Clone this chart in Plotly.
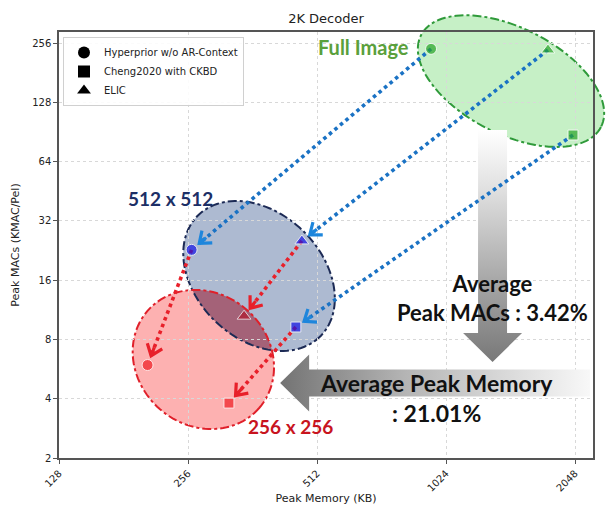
import math
import plotly.graph_objects as go

# ---------------- data ----------------
models = ["Hyperprior w/o AR-Context", "Cheng2020 with CKBD", "ELIC"]
symbols = ["circle", "square", "triangle-up"]
mem_full = [945, 2026, 1771]
macs_full = [239, 87.3, 236]
mem_512 = [261, 457, 472]
macs_512 = [22.8, 9.25, 25.3]
mem_256 = [206, 319, 346]
macs_256 = [5.93, 3.80, 10.5]

x_ticks = [128, 256, 512, 1024, 2048]
y_ticks = [2, 4, 8, 16, 32, 64, 128, 256]

group_labels = ["Full Image", "512 x 512", "256 x 256"]
avg_macs_text = "Average<br>Peak MACs : 3.42%"
avg_mem_text = "Average Peak Memory<br>: 21.01%"

# ---------------- layout geometry ----------------
W, H = 606, 508
ML, MR, MT, MB = 59, 13, 32, 50
PW, PH = W - ML - MR, H - MT - MB
XL = (7.0, 11.1395)      # log2 range of x axis
YL = (1.0, 8.1855)       # log2 range of y axis


def to_px(x, y):
    px = (math.log2(x) - XL[0]) / (XL[1] - XL[0]) * PW
    py = (YL[1] - math.log2(y)) / (YL[1] - YL[0]) * PH
    return px, py


def from_px(px, py):
    x = 2 ** (XL[0] + px / PW * (XL[1] - XL[0]))
    y = 2 ** (YL[1] - py / PH * (YL[1] - YL[0]))
    return x, y


def paper(px, py):
    return px / PW, 1 - py / PH


def ellipse_pts(c, a, b, deg, n=120):
    cx, cy = to_px(*c)
    th = math.radians(deg)
    pts = []
    for k in range(n):
        t = 2 * math.pi * k / n
        pts.append((cx + a * math.cos(t) * math.cos(th) - b * math.sin(t) * math.sin(th),
                    cy + a * math.cos(t) * math.sin(th) + b * math.sin(t) * math.cos(th)))
    return pts


def inside(p, c, a, b, deg):
    cx, cy = to_px(*c)
    th = math.radians(deg)
    dx, dy = p[0] - cx, p[1] - cy
    u = dx * math.cos(th) + dy * math.sin(th)
    v = -dx * math.sin(th) + dy * math.cos(th)
    return (u / a) ** 2 + (v / b) ** 2 <= 1.0


def path_of(pts):
    s = ""
    for i, (px, py) in enumerate(pts):
        X, Y = paper(px, py)
        s += ("M" if i == 0 else "L") + f"{X:.5f},{Y:.5f} "
    return s + "Z"


# ellipse regions: centre in data units, semi axes (px), angle (deg)
ell_full = dict(c=(1452, 164), a=101, b=53, deg=27)
ell_512 = dict(c=(375, 16.8), a=86, b=63, deg=44)
ell_256 = dict(c=(278, 6.33), a=74, b=66, deg=41)

shapes = []


def add_ellipse_fill(e, fill):
    shapes.append(dict(type="path", xref="paper", yref="paper", layer="below",
                       path=path_of(ellipse_pts(e["c"], e["a"], e["b"], e["deg"])),
                       fillcolor=fill, line=dict(width=0)))


def add_ellipse_line(e, col):
    shapes.append(dict(type="path", xref="paper", yref="paper", layer="below",
                       path=path_of(ellipse_pts(e["c"], e["a"], e["b"], e["deg"])),
                       fillcolor="rgba(0,0,0,0)", line=dict(color=col, width=2, dash="dashdot")))


add_ellipse_fill(ell_full, "rgba(120,220,120,0.42)")
add_ellipse_fill(ell_512, "rgba(60,90,145,0.42)")
add_ellipse_fill(ell_256, "rgba(250,70,70,0.42)")

# lens (overlap of 512 and 256 regions)
pa = [p for p in ellipse_pts(ell_256["c"], ell_256["a"], ell_256["b"], ell_256["deg"], 400)
      if inside(p, ell_512["c"], ell_512["a"], ell_512["b"], ell_512["deg"])]
pb = [p for p in ellipse_pts(ell_512["c"], ell_512["a"], ell_512["b"], ell_512["deg"], 400)
      if inside(p, ell_256["c"], ell_256["a"], ell_256["b"], ell_256["deg"])]
lens = pa + pb
if lens:
    mx = sum(p[0] for p in lens) / len(lens)
    my = sum(p[1] for p in lens) / len(lens)
    lens.sort(key=lambda p: math.atan2(p[1] - my, p[0] - mx))
    shapes.append(dict(type="path", xref="paper", yref="paper", layer="below",
                       path=path_of(lens), fillcolor="rgba(150,85,110,0.75)", line=dict(width=0)))

add_ellipse_line(ell_full, "#2f9a3a")
add_ellipse_line(ell_512, "#1c2a55")
add_ellipse_line(ell_256, "#e0202a")

fig = go.Figure()


# ---------------- gradient arrows ----------------
def arrow_poly(p0, p1, shw, hl, hhw):
    (x0, y0), (x1, y1) = to_px(*p0), to_px(*p1)
    L = math.hypot(x1 - x0, y1 - y0)
    ux, uy = (x1 - x0) / L, (y1 - y0) / L
    nx, ny = -uy, ux
    bx, by = x1 - ux * hl, y1 - uy * hl
    pts = [(x0 + nx * shw, y0 + ny * shw), (bx + nx * shw, by + ny * shw),
           (bx + nx * hhw, by + ny * hhw), (x1, y1),
           (bx - nx * hhw, by - ny * hhw), (bx - nx * shw, by - ny * shw),
           (x0 - nx * shw, y0 - ny * shw), (x0 + nx * shw, y0 + ny * shw)]
    d = [from_px(*p) for p in pts]
    return [q[0] for q in d], [q[1] for q in d]


v_arrow = ((1315, 92.5), (1315, 6.14))
h_arrow = ((2220, 4.81), (420, 4.81))

vx, vy = arrow_poly(*v_arrow, 14.5, 29, 29.5)
fig.add_trace(go.Scatter(x=vx, y=vy, mode="lines", fill="toself", line=dict(width=0),
                         fillgradient=dict(type="vertical",
                                           colorscale=[[0, "rgb(120,120,120)"], [0.3, "rgb(160,160,160)"],
                                                       [0.75, "rgb(225,225,225)"], [1, "rgb(255,255,255)"]]),
                         hoverinfo="skip", showlegend=False))
hx, hy = arrow_poly(*h_arrow, 13.5, 29, 28.5)
fig.add_trace(go.Scatter(x=hx, y=hy, mode="lines", fill="toself", line=dict(width=0),
                         fillgradient=dict(type="horizontal",
                                           colorscale=[[0, "rgb(115,115,115)"], [0.4, "rgb(180,180,180)"],
                                                       [1, "rgb(248,248,248)"]]),
                         hoverinfo="skip", showlegend=False))


# ---------------- dotted transition arrows ----------------
def transition(src_x, src_y, dst_x, dst_y, col, head_col):
    for i in range(len(src_x)):
        sx, sy = to_px(src_x[i], src_y[i])
        tx, ty = to_px(dst_x[i], dst_y[i])
        L = math.hypot(tx - sx, ty - sy)
        ux, uy = (tx - sx) / L, (ty - sy) / L
        tipx, tipy = tx - ux * 10, ty - uy * 10
        ex, ey = from_px(tipx, tipy)
        fig.add_trace(go.Scatter(x=[src_x[i], ex], y=[src_y[i], ey], mode="lines",
                                 line=dict(color=col, width=3.6, dash="dot"),
                                 hoverinfo="skip", showlegend=False))
        arm = []
        for ang in (38, -38):
            r = math.radians(ang)
            dx = -(ux * math.cos(r) - uy * math.sin(r)) * 13
            dy = -(ux * math.sin(r) + uy * math.cos(r)) * 13
            arm.append(from_px(tipx + dx, tipy + dy))
        stem = from_px(tipx - ux * 9, tipy - uy * 9)
        fig.add_trace(go.Scatter(x=[arm[0][0], ex, arm[1][0], None, ex, stem[0]],
                                 y=[arm[0][1], ey, arm[1][1], None, ey, stem[1]],
                                 mode="lines", line=dict(color=head_col, width=3.2),
                                 hoverinfo="skip", showlegend=False))


transition(mem_full, macs_full, mem_512, macs_512, "#1a72c4", "#1e86dc")
transition(mem_512, macs_512, mem_256, macs_256, "#e8202a", "#e8202a")

# ---------------- markers ----------------
sizes = [11, 10, 12]
fig.add_trace(go.Scatter(x=mem_full, y=macs_full, mode="markers", showlegend=False,
                         marker=dict(symbol=symbols, size=sizes, color="#28a428")))
fig.add_trace(go.Scatter(x=mem_512, y=macs_512, mode="markers", showlegend=False,
                         marker=dict(symbol=symbols, size=sizes, color="#1414e6")))
fig.add_trace(go.Scatter(x=mem_256, y=macs_256, mode="markers", showlegend=False,
                         marker=dict(symbol=symbols, size=sizes, color=["#f01c22", "#f01c22", "#b0182c"])))

for name, sym in zip(models, symbols):
    fig.add_trace(go.Scatter(x=[None], y=[None], mode="markers", name=name,
                             marker=dict(symbol=sym, size=11, color="black")))

# ---------------- annotations ----------------
ann_font = "Lato, 'Open Sans', sans-serif"


def ann(text, px, py, size, color):
    X, Y = paper(px, py)
    return dict(text=f"<b>{text}</b>", x=X, y=Y, xref="paper", yref="paper", showarrow=False,
                xanchor="center", yanchor="middle",
                font=dict(family=ann_font, size=size, color=color))


annotations = [
    ann(group_labels[0], 363 - ML, 47 - MT, 20, "#5aa03c"),
    ann(group_labels[1], 170 - ML, 198 - MT, 19, "#1c2f66"),
    ann(group_labels[2], 290 - ML, 426 - MT, 19, "#c8141e"),
]
X, Y = paper(492 - ML, 298 - MT)
annotations.append(dict(text="<b>" + avg_macs_text.replace("<br>", "</b><br><b>") + "</b>",
                        x=X, y=Y, xref="paper", yref="paper", showarrow=False,
                        xanchor="center", yanchor="middle", align="center",
                        font=dict(family=ann_font, size=22, color="#111111")))
X, Y = paper(436 - ML, 398 - MT)
annotations.append(dict(text="<b>" + avg_mem_text.replace("<br>", "</b><br><b>") + "</b>",
                        x=X, y=Y, xref="paper", yref="paper", showarrow=False,
                        xanchor="center", yanchor="middle", align="center",
                        font=dict(family=ann_font, size=23, color="#111111")))

axis_font = dict(family="DejaVu Sans", size=10, color="#222222")
fig.update_layout(
    width=W, height=H,
    margin=dict(l=ML, r=MR, t=MT, b=MB, pad=0, autoexpand=False),
    paper_bgcolor="white", plot_bgcolor="white",
    title=dict(text="2K Decoder", x=(ML + PW / 2) / W, xanchor="center", y=1 - 18 / H, yanchor="middle",
               font=dict(family="DejaVu Sans", size=13, color="#222222")),
    xaxis=dict(type="log", range=[XL[0] * math.log10(2), XL[1] * math.log10(2)], automargin=False,
               tickvals=x_ticks, ticktext=[str(v) for v in x_ticks], tickangle=-45,
               tickfont=axis_font, ticks="outside", ticklen=4, tickcolor="#555",
               showline=True, linecolor="#555", linewidth=1.5, mirror=True,
               showgrid=True, gridcolor="#d8d8d8", griddash="dot", gridwidth=1, zeroline=False,
               title=dict(text="Peak Memory (KB)", font=dict(family="DejaVu Sans", size=11, color="#222"),
                          standoff=2)),
    yaxis=dict(type="log", range=[YL[0] * math.log10(2), YL[1] * math.log10(2)], automargin=False,
               tickvals=y_ticks, ticktext=[str(v) for v in y_ticks],
               tickfont=axis_font, ticks="outside", ticklen=4, tickcolor="#555",
               showline=True, linecolor="#555", linewidth=1.5, mirror=True,
               showgrid=True, gridcolor="#d8d8d8", griddash="dot", gridwidth=1, zeroline=False,
               title=dict(text="Peak MACs (KMAC/Pel)", font=dict(family="DejaVu Sans", size=11, color="#222"),
                          standoff=10)),
    legend=dict(x=4 / PW, y=1 - 5 / PH, xanchor="left", yanchor="top",
                bgcolor="rgba(255,255,255,0.9)", bordercolor="#d0d0d0", borderwidth=1,
                font=dict(family="DejaVu Sans", size=10, color="#222"), itemsizing="constant",
                tracegroupgap=0),
    shapes=shapes,
    annotations=annotations,
)

fig.write_html("out.html")
